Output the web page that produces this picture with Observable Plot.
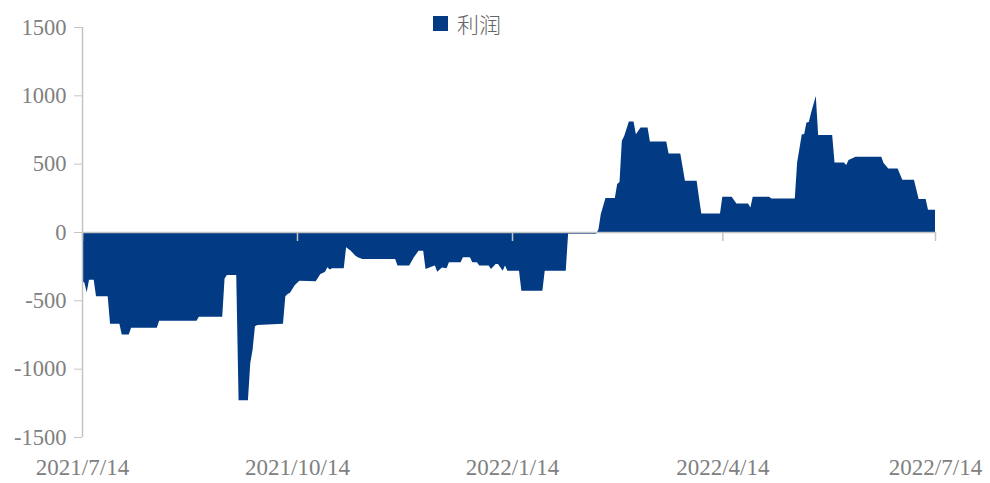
<!DOCTYPE html>
<html>
<head>
<meta charset="utf-8">
<script src="https://cdn.jsdelivr.net/npm/d3@7"></script>
<script src="https://cdn.jsdelivr.net/npm/@observablehq/plot@0.6"></script>
<style>
  html, body { margin: 0; padding: 0; background: #fff; }
  #wrap { position: relative; width: 990px; height: 483px; }
  #legend { position: absolute; left: 433px; top: 7px; display: flex; align-items: center;
            font-family: "Noto Sans CJK SC", sans-serif; font-weight: 300; font-size: 22px; color: #666; }
  #legend .sw { width: 15px; height: 15px; background: #023a84; margin-right: 9px; }
</style>
</head>
<body>
<div id="wrap">
  <div id="chart"></div>
  <div id="legend"><span class="sw"></span><span id="legendText"></span></div>
</div>
<script>
const seriesName = "利润";
const dates = [
  "2021-07-14","2021-07-15","2021-07-16","2021-07-17","2021-07-19","2021-07-20","2021-07-25","2021-07-26",
  "2021-07-30","2021-07-31","2021-08-03","2021-08-04","2021-08-15","2021-08-16","2021-09-01","2021-09-02",
  "2021-09-12","2021-09-13","2021-09-14","2021-09-18","2021-09-19","2021-09-23","2021-09-24","2021-09-25",
  "2021-09-26","2021-09-27","2021-10-08","2021-10-09","2021-10-10","2021-10-11","2021-10-13","2021-10-15",
  "2021-10-22","2021-10-24","2021-10-25","2021-10-26","2021-10-27","2021-10-28","2021-10-29","2021-11-03",
  "2021-11-04","2021-11-06","2021-11-08","2021-11-09","2021-11-11","2021-11-25","2021-11-26","2021-12-01",
  "2021-12-03","2021-12-05","2021-12-07","2021-12-08","2021-12-11","2021-12-12","2021-12-13","2021-12-15",
  "2021-12-17","2021-12-18","2021-12-23","2021-12-24","2021-12-27","2021-12-28","2021-12-30","2021-12-31",
  "2022-01-04","2022-01-05","2022-01-07","2022-01-08","2022-01-10","2022-01-11","2022-01-12","2022-01-17",
  "2022-01-18","2022-01-27","2022-01-28","2022-02-06","2022-02-07","2022-02-19","2022-02-20","2022-02-21",
  "2022-02-23","2022-02-27","2022-02-28","2022-03-01","2022-03-02","2022-03-03","2022-03-05","2022-03-07",
  "2022-03-08","2022-03-10","2022-03-13","2022-03-14","2022-03-21","2022-03-22","2022-03-27","2022-03-29",
  "2022-04-03","2022-04-04","2022-04-05","2022-04-13","2022-04-14","2022-04-18","2022-04-20","2022-04-25",
  "2022-04-26","2022-04-27","2022-05-04","2022-05-05","2022-05-15","2022-05-16","2022-05-18","2022-05-19",
  "2022-05-20","2022-05-21","2022-05-22","2022-05-24","2022-05-25","2022-05-31","2022-06-01","2022-06-05",
  "2022-06-06","2022-06-07","2022-06-10","2022-06-21","2022-06-22","2022-06-24","2022-06-28","2022-06-30",
  "2022-07-05","2022-07-07","2022-07-10","2022-07-11","2022-07-14"
];
const profit = [
  -360,-370,-441,-350,-350,-470,-470,-672,
  -672,-750,-750,-701,-701,-650,-650,-620,
  -620,-340,-314,-314,-1232,-1232,-960,-860,
  -690,-680,-672,-470,-453,-445,-390,-356,
  -360,-307,-300,-290,-258,-275,-266,-266,
  -112,-137,-173,-185,-197,-197,-246,-246,
  -185,-137,-137,-270,-250,-246,-290,-260,
  -265,-222,-222,-185,-185,-222,-222,-246,
  -246,-270,-234,-234,-283,-246,-283,-283,
  -429,-429,-283,-283,-12,-12,20,131,
  248,248,351,365,667,703,808,808,
  716,764,764,662,662,574,574,375,
  375,253,136,136,258,258,209,209,
  180,258,258,245,245,508,716,716,
  801,805,874,996,709,709,508,508,
  490,526,550,550,504,465,465,382,
  382,241,241,163,163
];
const xTickLabels = ["2021-07-14","2021-10-14","2022-01-14","2022-04-14","2022-07-14"];
const yTicks = [-1500,-1000,-500,0,500,1000,1500];

const parse = d3.utcParse("%Y-%m-%d");
const data = dates.map((d, i) => ({date: parse(d), value: profit[i]}));
const xTicks = xTickLabels.map(parse);

const blue = "#023a84";
const axisGray = "#c4c4c4";
const textGray = "#808080";

const chart = Plot.plot({
  width: 990,
  height: 483,
  marginLeft: 82,
  marginRight: 55,
  marginTop: 27,
  marginBottom: 46,
  style: {fontFamily: "'Liberation Serif', serif", fontSize: "23px", background: "transparent", overflow: "visible"},
  x: {type: "utc", domain: [xTicks[0], xTicks[xTicks.length - 1]]},
  y: {domain: [-1500, 1500]},
  marks: [
    Plot.areaY(data, {x: "date", y1: 0, y2: "value", fill: blue, curve: "linear"}),
    Plot.ruleY([0], {stroke: axisGray, strokeWidth: 1.5}),
    Plot.ruleX(xTicks, {y1: 0, y2: 0, insetBottom: -9, stroke: axisGray, strokeWidth: 1.5}),
    Plot.ruleX([xTicks[0]], {y1: -1500, y2: 1500, stroke: axisGray, strokeWidth: 1.5}),
    Plot.axisY({ticks: yTicks, tickFormat: d => String(d), tickSize: 8, tickPadding: 8,
                stroke: axisGray, fill: textGray, label: null, fontSize: 22.5}),
    Plot.axisX({ticks: xTicks, tickFormat: d3.utcFormat("%Y/%-m/%-d"), tickSize: 0, tickPadding: 21,
                fill: textGray, label: null, fontSize: 23})
  ]
});
document.getElementById("chart").appendChild(chart);
document.getElementById("legendText").textContent = seriesName;
</script>
</body>
</html>
